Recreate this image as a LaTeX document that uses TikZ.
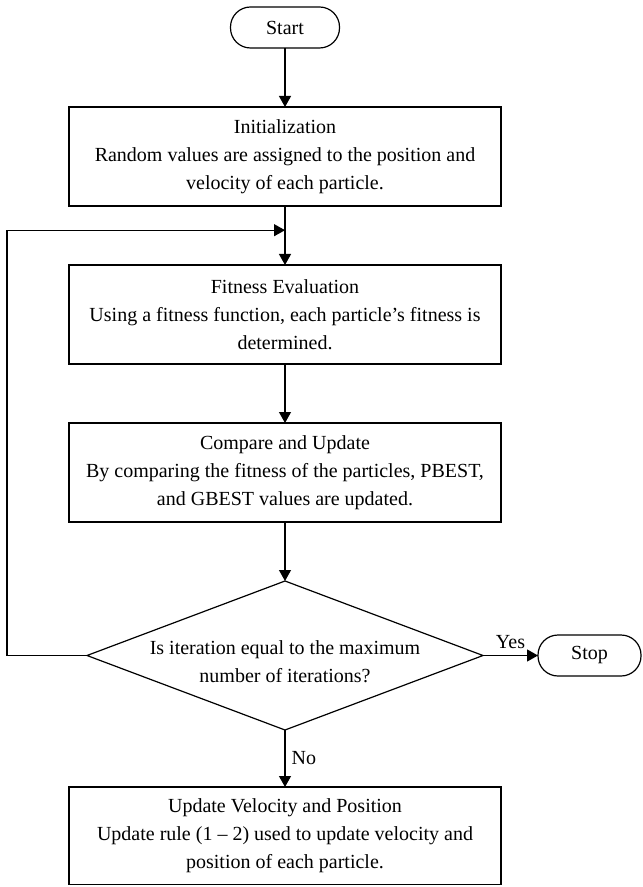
\documentclass[tikz,border=0pt]{standalone}
\usepackage{fontspec}
\setmainfont{Liberation Serif}
\usetikzlibrary{positioning,arrows.meta,shapes.geometric,calc}
\tikzset{
  box/.style  ={draw, line width=0.7pt, minimum width=216pt, minimum height=49.5pt,
                align=center, inner sep=2pt, outer sep=0pt},
  term/.style ={draw, line width=0.6pt, rounded corners=10pt, minimum width=54.5pt,
                minimum height=20.5pt, inner sep=2pt, outer sep=0pt},
  dec/.style  ={draw, diamond, line width=0.6pt, minimum width=198pt,
                minimum height=74.5pt, inner sep=0pt, outer sep=0pt},
  fl/.style   ={-{Triangle[length=5.5pt,width=6pt]}, line width=0.6pt},
  lbl/.style  ={inner sep=3pt},
}

\begin{document}
\begin{tikzpicture}[node distance=29.5pt, font={\fontsize{10}{14}\selectfont}]
  \useasboundingbox (0,0) rectangle (321pt,-443.5pt);

  % ---------------- main column -----------------
  \node[term] (start) at (142.5pt,-13.75pt) {Start};
  \node[box, below=of start] (init)
        {Initialization\\Random values are assigned to the position and\\velocity of each particle.};
  \node[box, below=of init] (fit)
        {Fitness Evaluation\\Using a fitness function, each particle’s fitness is\\determined.};
  \node[box, below=of fit] (comp)
        {Compare and Update\\By comparing the fitness of the particles, PBEST,\\and GBEST values are updated.};
  \node[dec, below=of comp] (check) {};
  \node[align=center, inner sep=0pt] (check-txt) at ([yshift=-3pt]check.center)
        {Is iteration equal to the maximum\\number of iterations?};
  \node[term, minimum width=51.5pt, right=27.5pt of check] (stop) {Stop};
  \node[box, minimum height=48.6pt, below=28.5pt of check] (upd)
        {Update Velocity and Position\\Update rule (1 – 2) used to update velocity and\\position of each particle.};

  % ---- arrows ----
  \coordinate (join) at ($(init.south)!0.41!(fit.north)$);
  \draw[fl](start)--(init);
  \draw[fl](init)--(fit);
  \draw[fl](fit)--(comp);
  \draw[fl](comp)--(check);
  \draw[fl](check)--node[lbl, above]{Yes}(stop);
  \draw[fl](check)--node[lbl, right]{No}(upd);
  \draw[fl](check.west)--++(-40pt,0)|-(join);
\end{tikzpicture}
\end{document}
